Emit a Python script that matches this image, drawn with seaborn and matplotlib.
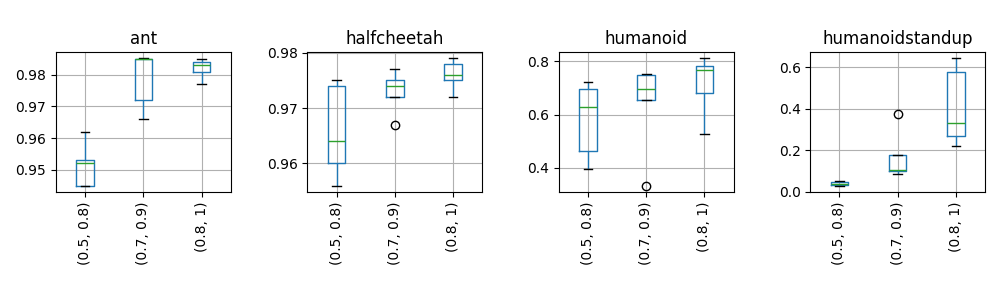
import pandas as pd
import seaborn as sns
import matplotlib.pyplot as plt

# Threshold ranges (x categories)
ranges = ["(0.5, 0.8)", "(0.7, 0.9)", "(0.8, 1)"]

# Scores per run, one list per range
ant = [
    [0.945, 0.945, 0.952, 0.953, 0.962],
    [0.966, 0.972, 0.985, 0.985, 0.9852],
    [0.977, 0.981, 0.983, 0.984, 0.985],
]
halfcheetah = [
    [0.956, 0.960, 0.964, 0.974, 0.975],
    [0.967, 0.972, 0.974, 0.975, 0.977],
    [0.972, 0.975, 0.976, 0.978, 0.979],
]
humanoid = [
    [0.397, 0.465, 0.630, 0.695, 0.723],
    [0.333, 0.655, 0.695, 0.748, 0.751],
    [0.527, 0.680, 0.768, 0.783, 0.812],
]
humanoidstandup = [
    [0.030, 0.035, 0.040, 0.048, 0.052],
    [0.088, 0.100, 0.105, 0.178, 0.375],
    [0.222, 0.270, 0.333, 0.575, 0.643],
]

envs = {
    "ant": ant,
    "halfcheetah": halfcheetah,
    "humanoid": humanoid,
    "humanoidstandup": humanoidstandup,
}

rows = []
for env, groups in envs.items():
    for r, vals in zip(ranges, groups):
        for v in vals:
            rows.append({"env": env, "range": r, "score": v})
df = pd.DataFrame(rows)

fig, axes = plt.subplots(1, 4, figsize=(10, 3), dpi=100)
for ax, env in zip(axes, envs):
    sns.boxplot(
        data=df[df["env"] == env], x="range", y="score", order=ranges,
        ax=ax, fill=False, color="#1f77b4", width=0.3, linewidth=1,
        medianprops={"color": "#2ca02c"},
        capprops={"color": "black"},
        flierprops={"marker": "o", "markerfacecolor": "none",
                    "markeredgecolor": "black", "markersize": 6},
    )
    ax.set_title(env)
    ax.set_xlabel("")
    ax.set_ylabel("")
    ax.grid(True)
    ax.set_axisbelow(True)
    ax.tick_params(axis="x", labelrotation=90)

fig.subplots_adjust(left=0.056, right=0.985, top=0.827, bottom=0.36, wspace=0.44)
fig.savefig("out.png")
